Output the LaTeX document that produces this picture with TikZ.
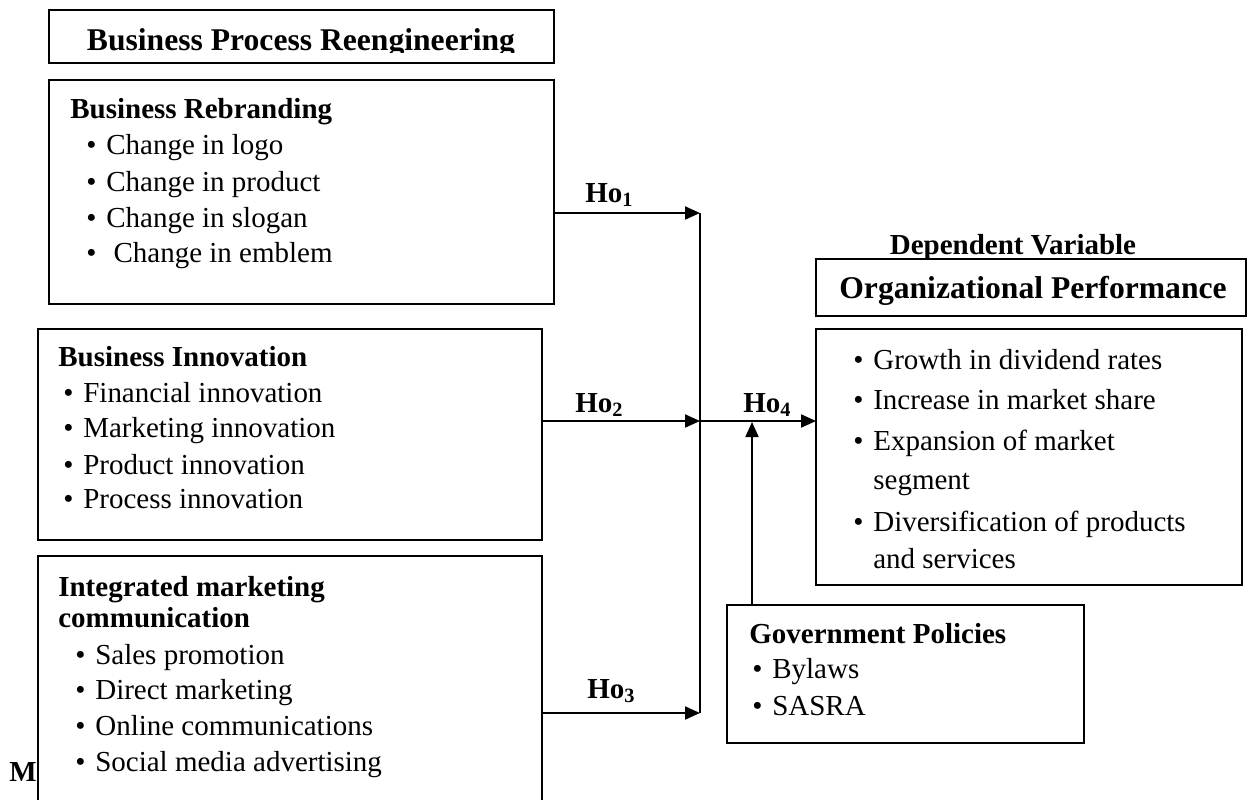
\documentclass[tikz,border=0pt]{standalone}
\usepackage{fontspec}
\setmainfont{Liberation Serif}
\usetikzlibrary{arrows.meta}

\newcommand{\itm}[1]{\makebox[0.4cm][l]{\textbullet}#1}
\newcommand{\hyp}[1]{\textbf{Ho\textsubscript{#1}}}

\begin{document}
\begin{tikzpicture}[x=0.02cm,y=-0.02cm,font=\fontsize{16.5}{20}\selectfont]
\tikzstyle{box}=[draw,line width=0.9pt,inner sep=0,outer sep=0,fill=white]
\tikzstyle{txt}=[anchor=base west,inner sep=0]
\tikzstyle{hd}=[txt,font=\fontsize{16.5}{20}\selectfont\bfseries]
\tikzstyle{big}=[anchor=base,inner sep=0,font=\fontsize{18}{22}\selectfont\bfseries]
\tikzstyle{arr}=[line width=1.1pt,-{Triangle[length=3mm,width=2.6mm]}]
\useasboundingbox (0,0) rectangle (1248,799);
% independent side
\node[box,minimum width=10.1cm,minimum height=1.06cm] (bpr) at (301.5,36.5) {};
\begin{scope}
\clip (49,10) rectangle (554,52);
\node[big] (bprt) at (301,50) {Business Process Reengineering};
\end{scope}
\node[box,minimum width=10.1cm,minimum height=4.48cm] (reb) at (301.5,192) {};
\node[hd] (rebt) at (70,118) {Business Rebranding};
\node[txt] (reb1) at (86,154) {\itm{Change in logo}};
\node[txt] (reb2) at (86,191) {\itm{Change in product}};
\node[txt] (reb3) at (86,227) {\itm{Change in slogan}};
\node[txt] (reb4) at (86,262) {\itm{~Change in emblem}};
\node[box,minimum width=10.08cm,minimum height=4.22cm] (inn) at (290,434.5) {};
\node[hd] (innt) at (58,366) {Business Innovation};
\node[txt] (inn1) at (63,402) {\itm{Financial innovation}};
\node[txt] (inn2) at (63,437) {\itm{Marketing innovation}};
\node[txt] (inn3) at (63,474) {\itm{Product innovation}};
\node[txt] (inn4) at (63,508) {\itm{Process innovation}};
\node[hd] (mlet) at (9,781) {M};
\node[box,minimum width=10.08cm,minimum height=5.48cm] (imc) at (290,693) {};
\node[hd] (imct) at (58,596) {Integrated marketing};
\node[hd] (imct2) at (58,627) {communication};
\node[txt] (imc1) at (75,664) {\itm{Sales promotion}};
\node[txt] (imc2) at (75,699) {\itm{Direct marketing}};
\node[txt] (imc3) at (75,735) {\itm{Online communications}};
\node[txt] (imc4) at (75,771) {\itm{Social media advertising}};
% dependent side
\node[hd,anchor=base] (dv) at (1013,254) {Dependent Variable};
\node[box,minimum width=8.6cm,minimum height=1.14cm] (perf) at (1031,287.5) {};
\node[big] (perft) at (1033,298) {Organizational Performance};
\node[box,minimum width=8.52cm,minimum height=5.12cm] (ind) at (1029,457) {};
\node[txt] (ind1) at (853,369) {\itm{Growth in dividend rates}};
\node[txt] (ind2) at (853,409) {\itm{Increase in market share}};
\node[txt] (ind3) at (853,450) {\itm{Expansion of market}};
\node[txt] (ind3b) at (873,489) {segment};
\node[txt] (ind4) at (853,531) {\itm{Diversification of products}};
\node[txt] (ind4b) at (873,568) {and services};
\node[box,minimum width=7.14cm,minimum height=2.76cm] (gov) at (905.5,674) {};
\node[hd] (govt) at (749,643) {Government Policies};
\node[txt] (gov1) at (752,678) {\itm{Bylaws}};
\node[txt] (gov2) at (752,715) {\itm{SASRA}};
% links
\coordinate (j1) at (700,213);
\coordinate (j2) at (700,421);
\coordinate (j3) at (700,713);
\coordinate (m4) at (752,422);
\draw[line width=1.1pt] (j1) -- (j3);
\draw[arr] (j1 -| reb.east) -- (j1);
\draw[arr] (j2 -| inn.east) -- (j2);
\draw[arr] (j3 -| imc.east) -- (j3);
\draw[arr] (j2) -- (j2 -| ind.west);
\draw[arr] (gov.north -| m4) -- (m4);
\node[txt] (h1) at (585,202) {\hyp{1}};
\node[txt] (h2) at (575,412) {\hyp{2}};
\node[txt] (h3) at (587,698) {\hyp{3}};
\node[txt] (h4) at (743,412) {\hyp{4}};
\end{tikzpicture}
\end{document}
